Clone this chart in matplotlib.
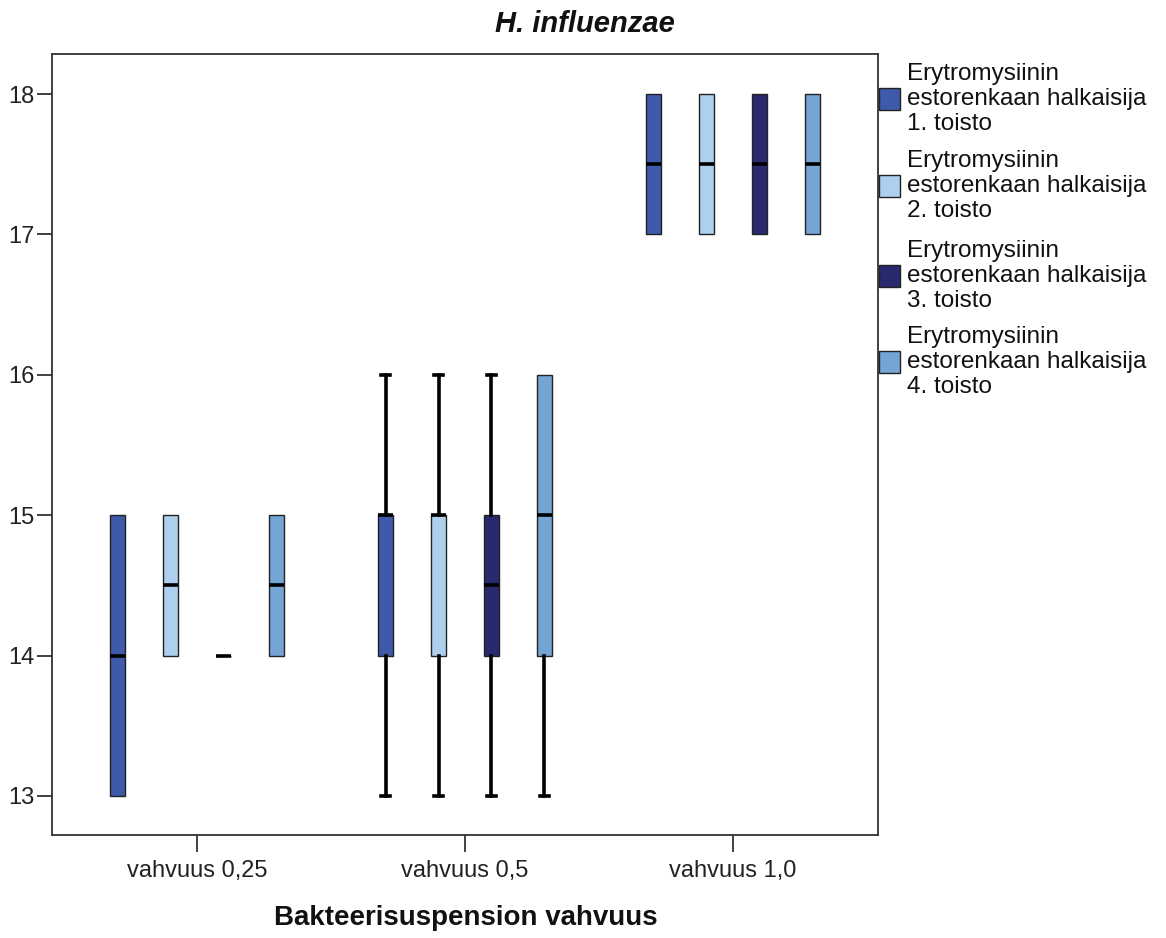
import matplotlib
matplotlib.use("Agg")
import matplotlib.pyplot as plt
from matplotlib.patches import Rectangle

plt.rcParams['font.family'] = ['Liberation Sans', 'DejaVu Sans']

# ---------------------------------------------------------------------------
# data
# ---------------------------------------------------------------------------
groups = ['vahvuus 0,25', 'vahvuus 0,5', 'vahvuus 1,0']
series = ['Erytromysiinin\nestorenkaan halkaisija\n1. toisto',
          'Erytromysiinin\nestorenkaan halkaisija\n2. toisto',
          'Erytromysiinin\nestorenkaan halkaisija\n3. toisto',
          'Erytromysiinin\nestorenkaan halkaisija\n4. toisto']

s1_min = [13, 13, 17]
s1_q1 = [13, 14, 17]
s1_med = [14, 15, 17.5]
s1_q3 = [15, 15, 18]
s1_max = [15, 16, 18]

s2_min = [14, 13, 17]
s2_q1 = [14, 14, 17]
s2_med = [14.5, 15, 17.5]
s2_q3 = [15, 15, 18]
s2_max = [15, 16, 18]

s3_min = [14, 13, 17]
s3_q1 = [14, 14, 17]
s3_med = [14, 14.5, 17.5]
s3_q3 = [14, 15, 18]
s3_max = [14, 16, 18]

s4_min = [14, 13, 17]
s4_q1 = [14, 14, 17]
s4_med = [14.5, 15, 17.5]
s4_q3 = [15, 16, 18]
s4_max = [15, 16, 18]

colors = ['#3d5aab', '#aed0ee', '#28296e', '#74a5d5']

all_stats = [
    (s1_min, s1_q1, s1_med, s1_q3, s1_max),
    (s2_min, s2_q1, s2_med, s2_q3, s2_max),
    (s3_min, s3_q1, s3_med, s3_q3, s3_max),
    (s4_min, s4_q1, s4_med, s4_q3, s4_max),
]

# ---------------------------------------------------------------------------
# figure
# ---------------------------------------------------------------------------
W, H = 1166, 938
fig = plt.figure(figsize=(W / 100, H / 100), dpi=100)
ax = fig.add_axes([52 / W, 1 - 835 / H, (878 - 52) / W, (835 - 54) / H])

step = 0.1975
bw = 0.056
for i, (mn, q1, md, q3, mx) in enumerate(all_stats):
    stats = []
    for g in range(len(groups)):
        stats.append(dict(whislo=mn[g], q1=q1[g], med=md[g], q3=q3[g],
                          whishi=mx[g], fliers=[]))
    pos = [g + (i - 1.5) * step for g in range(len(groups))]
    art = ax.bxp(stats, positions=pos, widths=bw, patch_artist=True,
                 showfliers=False, capwidths=bw * 0.55, manage_ticks=False,
                 boxprops=dict(facecolor=colors[i], edgecolor='#222222', linewidth=1.0),
                 medianprops=dict(color='black', linewidth=2.6, solid_capstyle='butt'),
                 whiskerprops=dict(color='black', linewidth=2.6),
                 capprops=dict(color='black', linewidth=2.6))
    # SPSS draws no cap when the whisker has zero length
    for g in range(len(groups)):
        if mn[g] == q1[g]:
            art['caps'][2 * g].set_visible(False)
        if mx[g] == q3[g]:
            art['caps'][2 * g + 1].set_visible(False)

ax.set_xlim(-0.541, 2.541)
ax.set_ylim(12.722, 18.285)
ax.set_xticks(range(len(groups)))
ax.set_xticklabels(groups, fontsize=17, color='#222222')
ax.set_yticks([13, 14, 15, 16, 17, 18])
ax.tick_params(axis='y', length=11, width=1.3, pad=1.5, labelsize=17,
               labelcolor='#222222', color='#333333')
ax.tick_params(axis='x', length=12, width=1.3, pad=6, color='#333333')
for sp in ax.spines.values():
    sp.set_linewidth(1.3)
    sp.set_color('#333333')

fig.text(585 / W, 1 - 24 / H, 'H. influenzae', ha='center', va='center',
         fontsize=21, fontweight='bold', fontstyle='italic', color='#111111')
fig.text(466 / W, 1 - 918 / H, 'Bakteerisuspension vahvuus', ha='center',
         va='center', fontsize=20, fontweight='bold', color='#111111')

# legend drawn by hand, to the right of the plot
legend_y = [99, 186, 276, 362]
for i, lab in enumerate(series):
    yc = 1 - legend_y[i] / H
    fig.add_artist(Rectangle((879 / W, yc - 11 / H), 21 / W, 22 / H,
                             transform=fig.transFigure, facecolor=colors[i],
                             edgecolor='#222222', linewidth=1.0))
    fig.text(907 / W, yc, lab, ha='left', va='center', fontsize=17.5,
             color='#111111', linespacing=1.2)

fig.savefig('out.png', dpi=100)
